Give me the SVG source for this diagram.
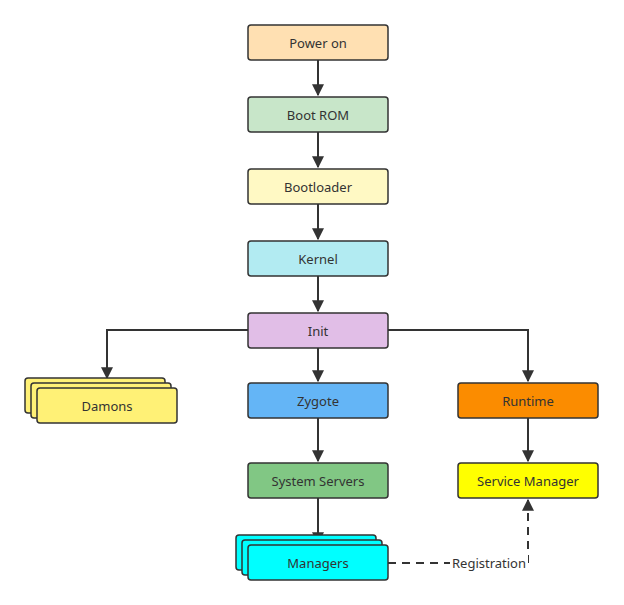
<svg xmlns="http://www.w3.org/2000/svg" width="624" height="605" viewBox="0 0 624 605">
  <style>
    .box { stroke: #333333; stroke-width: 1.5; }
    .lbl { font-family: "Noto Sans", "Open Sans", sans-serif; font-size: 13px; fill: #333333; text-anchor: middle; dominant-baseline: central; }
    .edge { fill: none; stroke: #333333; stroke-width: 2; }
    .dash { stroke-dasharray: 8 6; }
  </style>
  <defs>
    <marker id="arrow" viewBox="0 0 10 10" refX="9" refY="5" markerWidth="6" markerHeight="6" orient="auto" markerUnits="strokeWidth">
      <path d="M0,0 L10,5 L0,10 Z" fill="#333333"/>
    </marker>
  </defs>
  <rect width="624" height="605" fill="#ffffff"/>

  <g id="connectors">
    <path class="edge" d="M318,60 V95" marker-end="url(#arrow)"/>
    <path class="edge" d="M318,132 V167" marker-end="url(#arrow)"/>
    <path class="edge" d="M318,204 V239" marker-end="url(#arrow)"/>
    <path class="edge" d="M318,276 V311" marker-end="url(#arrow)"/>
    <path class="edge" d="M318,348 V381" marker-end="url(#arrow)"/>
    <path class="edge" d="M318,418 V461" marker-end="url(#arrow)"/>
    <path class="edge" d="M318,498 V543" marker-end="url(#arrow)"/>
    <path class="edge" d="M248,330 H107 V378" marker-end="url(#arrow)"/>
    <path class="edge" d="M388,330 H528 V381" marker-end="url(#arrow)"/>
    <path class="edge" d="M528,418 V461" marker-end="url(#arrow)"/>
    <path class="edge dash" d="M388,563 H528 V500" marker-end="url(#arrow)"/>
    <rect x="450" y="554" width="78" height="18" fill="#ffffff"/>
    <text class="lbl" x="489" y="563" fill="#444444">Registration</text>
  </g>

  <g id="power-on">
    <rect class="box" x="248" y="25" width="140" height="35" rx="3" fill="#ffe0b2"/>
    <text class="lbl" x="318" y="42.5">Power on</text>
  </g>
  <g id="boot-rom">
    <rect class="box" x="248" y="97" width="140" height="35" rx="3" fill="#c8e6c9"/>
    <text class="lbl" x="318" y="114.5">Boot ROM</text>
  </g>
  <g id="bootloader">
    <rect class="box" x="248" y="169" width="140" height="35" rx="3" fill="#fff9c4"/>
    <text class="lbl" x="318" y="186.5">Bootloader</text>
  </g>
  <g id="kernel">
    <rect class="box" x="248" y="241" width="140" height="35" rx="3" fill="#b2ebf2"/>
    <text class="lbl" x="318" y="258.5">Kernel</text>
  </g>
  <g id="init">
    <rect class="box" x="248" y="313" width="140" height="35" rx="3" fill="#e1bee7"/>
    <text class="lbl" x="318" y="330.5">Init</text>
  </g>
  <g id="damons">
    <rect class="box" x="25" y="378" width="140" height="35" rx="3" fill="#fff176"/>
    <rect class="box" x="31" y="383" width="140" height="35" rx="3" fill="#fff176"/>
    <rect class="box" x="37" y="388" width="140" height="35" rx="3" fill="#fff176"/>
    <text class="lbl" x="107" y="405.5">Damons</text>
  </g>
  <g id="zygote">
    <rect class="box" x="248" y="383" width="140" height="35" rx="3" fill="#64b5f6"/>
    <text class="lbl" x="318" y="400.5">Zygote</text>
  </g>
  <g id="runtime">
    <rect class="box" x="458" y="383" width="140" height="35" rx="3" fill="#fb8c00"/>
    <text class="lbl" x="528" y="400.5">Runtime</text>
  </g>
  <g id="system-servers">
    <rect class="box" x="248" y="463" width="140" height="35" rx="3" fill="#81c784"/>
    <text class="lbl" x="318" y="480.5">System Servers</text>
  </g>
  <g id="service-manager">
    <rect class="box" x="458" y="463" width="140" height="35" rx="3" fill="#ffff00"/>
    <text class="lbl" x="528" y="480.5">Service Manager</text>
  </g>
  <g id="managers">
    <rect class="box" x="236" y="535" width="140" height="35" rx="3" fill="#00ffff"/>
    <rect class="box" x="242" y="540" width="140" height="35" rx="3" fill="#00ffff"/>
    <rect class="box" x="248" y="545" width="140" height="35" rx="3" fill="#00ffff"/>
    <text class="lbl" x="318" y="562.5">Managers</text>
  </g>
</svg>
